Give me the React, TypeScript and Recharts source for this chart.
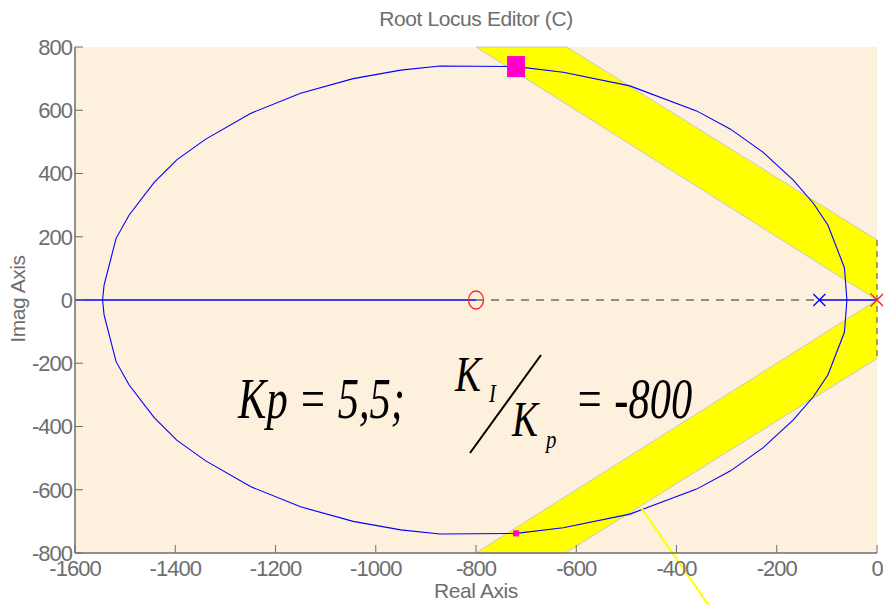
import type { ReactElement } from 'react'
import { ComposedChart, XAxis, YAxis, Line, Area, Scatter, CartesianGrid, ReferenceLine } from 'recharts'

const xTicks = [-1600, -1400, -1200, -1000, -800, -600, -400, -200, 0]
const yTicks = [-800, -600, -400, -200, 0, 200, 400, 600, 800]

// root locus branches (upper / lower halves)
const locusUpper = [
  { x: -1545, y: 0 }, { x: -1542, y: 47 }, { x: -1518, y: 195 }, { x: -1492, y: 269 },
  { x: -1442, y: 372 }, { x: -1397, y: 443 }, { x: -1340, y: 508 }, { x: -1250, y: 590 },
  { x: -1150, y: 654 }, { x: -1045, y: 700 }, { x: -950, y: 727 }, { x: -872, y: 740 },
  { x: -720, y: 738 }, { x: -626, y: 720 }, { x: -493, y: 677 }, { x: -360, y: 598 },
  { x: -293, y: 541 }, { x: -227, y: 467 }, { x: -167, y: 379 }, { x: -127, y: 306 },
  { x: -98, y: 237 }, { x: -65, y: 102 }, { x: -60, y: 0 },
]
const locusLower = [
  { x: -1545, y: 0 }, { x: -1542, y: -47 }, { x: -1518, y: -195 }, { x: -1492, y: -269 },
  { x: -1442, y: -372 }, { x: -1397, y: -443 }, { x: -1340, y: -508 }, { x: -1250, y: -590 },
  { x: -1150, y: -654 }, { x: -1045, y: -700 }, { x: -950, y: -727 }, { x: -872, y: -740 },
  { x: -720, y: -738 }, { x: -626, y: -720 }, { x: -493, y: -677 }, { x: -360, y: -598 },
  { x: -293, y: -541 }, { x: -227, y: -467 }, { x: -167, y: -379 }, { x: -127, y: -306 },
  { x: -98, y: -237 }, { x: -65, y: -102 }, { x: -60, y: 0 },
]
const realAxisLeft = [{ x: -1600, y: 0 }, { x: -800, y: 0 }]
const realAxisRight = [{ x: -115, y: 0 }, { x: 0, y: 0 }]
const realAxisGap = [{ x: -800, y: 0 }, { x: -115, y: 0 }]

// damping / settling regions
const bandUpper = [
  { x: -800, lo: 800, hi: 800 },
  { x: -619, lo: 619, hi: 800 },
  { x: 0, lo: 0, hi: 190 },
]
const bandLower = [
  { x: -800, lo: -800, hi: -800 },
  { x: -622, lo: -800, hi: -622 },
  { x: 0, lo: -185, hi: 0 },
]

const zeros = [{ x: -800, y: 0 }]
const plantPoles = [{ x: -115, y: 0 }]
const integratorPoles = [{ x: 0, y: 0 }]
const closedLoopUpper = [{ x: -720, y: 738 }]
const closedLoopLower = [{ x: -720, y: -738 }]
const guide = [{ x: -470, y: -658 }, { x: -336, y: -965 }]

const gray = '#6e6e6e'
const tickFont = { fill: gray, fontSize: 22, fontFamily: 'Liberation Sans, Arial, sans-serif', letterSpacing: -1 }

const crossShape = (color: string, r: number) => (props: any) => {
  const { cx, cy } = props
  return (
    <g stroke={color} strokeWidth={1.3}>
      <line x1={cx - r} y1={cy - r} x2={cx + r} y2={cy + r} />
      <line x1={cx - r} y1={cy + r} x2={cx + r} y2={cy - r} />
    </g>
  )
}
const zeroShape = (props: any) => (
  <ellipse cx={props.cx} cy={props.cy} rx={7.5} ry={9} fill="none" stroke="#ff2020" strokeWidth={1.3} />
)
const squareShape = (w: number, h: number) => (props: any) => (
  <rect x={props.cx - w / 2} y={props.cy - h / 2} width={w} height={h} fill="#ff00cc" stroke="#ff00cc" />
)

export default function App(): ReactElement {
  return (
    <div style={{ position: 'absolute', left: 0, top: 0, width: 883, height: 605, background: '#fff' }}>
      <ComposedChart width={883} height={605} margin={{ top: 47, right: 6, bottom: 0, left: 0 }}>
        <CartesianGrid fill="#fdf0dc" horizontal={false} vertical={false} />
        <XAxis
          xAxisId={0}
          type="number"
          dataKey="x"
          domain={[-1600, 0]}
          ticks={xTicks}
          height={52}
          tickSize={-8}
          tickMargin={15}
          tick={tickFont}
          stroke={gray}
          axisLine={{ stroke: gray, strokeWidth: 1.5 }}
        />
        <XAxis
          xAxisId="top"
          orientation="top"
          type="number"
          dataKey="x"
          domain={[-1600, 0]}
          ticks={xTicks}
          height={0}
          tickSize={-8}
          tick={false}
          stroke={gray}
          axisLine={{ stroke: gray, strokeWidth: 1.5 }}
        />
        <YAxis
          yAxisId={0}
          type="number"
          dataKey="y"
          domain={[-800, 800]}
          ticks={yTicks}
          width={75}
          tickSize={-8}
          tickMargin={11}
          tick={tickFont}
          stroke={gray}
          axisLine={{ stroke: gray, strokeWidth: 1.5 }}
        />
        <YAxis
          yAxisId="right"
          orientation="right"
          type="number"
          dataKey="y"
          domain={[-800, 800]}
          ticks={yTicks}
          width={0}
          tickSize={-8}
          tick={false}
          stroke={gray}
          axisLine={{ stroke: gray, strokeWidth: 1.5 }}
        />

        <Area data={bandUpper} type="linear" dataKey={(d: any) => [d.lo, d.hi]} fill="#ffff00" fillOpacity={1} stroke="#c8c8c8" strokeWidth={1} isAnimationActive={false} />
        <Area data={bandLower} type="linear" dataKey={(d: any) => [d.lo, d.hi]} fill="#ffff00" fillOpacity={1} stroke="#c8c8c8" strokeWidth={1} isAnimationActive={false} />

        <ReferenceLine segment={[{ x: 0, y: 190 }, { x: 0, y: -185 }]} stroke={gray} strokeDasharray="6 5" strokeWidth={1.3} />
        <Line data={realAxisGap} dataKey="y" type="linear" stroke={gray} strokeWidth={1.3} strokeDasharray="8 7" dot={false} isAnimationActive={false} />
        <Line data={realAxisLeft} dataKey="y" type="linear" stroke="#0000ff" strokeWidth={1.3} dot={false} isAnimationActive={false} />
        <Line data={realAxisRight} dataKey="y" type="linear" stroke="#0000ff" strokeWidth={1.3} dot={false} isAnimationActive={false} />
        <Line data={locusUpper} dataKey="y" type="linear" stroke="#0000ff" strokeWidth={1.1} dot={false} isAnimationActive={false} />
        <Line data={locusLower} dataKey="y" type="linear" stroke="#0000ff" strokeWidth={1.1} dot={false} isAnimationActive={false} />

        <ReferenceLine segment={guide} ifOverflow="visible" stroke="#ffff00" strokeWidth={2} />

        <Scatter data={zeros} dataKey="y" shape={zeroShape} isAnimationActive={false} />
        <Scatter data={plantPoles} dataKey="y" shape={crossShape('#0000ff', 6)} isAnimationActive={false} />
        <Scatter data={integratorPoles} dataKey="y" shape={crossShape('#ff2020', 6.5)} isAnimationActive={false} />
        <Scatter data={closedLoopUpper} dataKey="y" shape={squareShape(17, 20)} isAnimationActive={false} />
        <Scatter data={closedLoopLower} dataKey="y" shape={squareShape(5, 5)} isAnimationActive={false} />
      </ComposedChart>

      <svg width={883} height={605} style={{ position: 'absolute', left: 0, top: 0, pointerEvents: 'none' }}>
        <g fontFamily="Liberation Sans, Arial, sans-serif" fill={gray} fontSize={21} letterSpacing={-0.4}>
          <text x={476} y={26} textAnchor="middle">Root Locus Editor (C)</text>
          <text x={476} y={598} textAnchor="middle" fontSize={21}>Real Axis</text>
          <text transform="translate(25,299) rotate(-90)" textAnchor="middle" fontSize={21}>Imag Axis</text>
        </g>
        <g fontFamily="Liberation Serif, Times New Roman, serif" fontStyle="italic" fill="#000">
          <text transform="translate(238,418) scale(0.76,1)" fontSize={56}>Kp = 5,5;</text>
          <text transform="translate(455,391) scale(0.78,1)" fontSize={50}>K</text>
          <text transform="translate(489,402) scale(0.8,1)" fontSize={26}>I</text>
          <line x1={470} y1={453} x2={541} y2={355} stroke="#000" strokeWidth={2} />
          <text transform="translate(512,436) scale(0.78,1)" fontSize={50}>K</text>
          <text transform="translate(546,448) scale(0.8,1)" fontSize={26}>p</text>
          <text transform="translate(575,418) scale(0.76,1)" fontSize={56}>= -800</text>
        </g>
      </svg>
    </div>
  )
}
